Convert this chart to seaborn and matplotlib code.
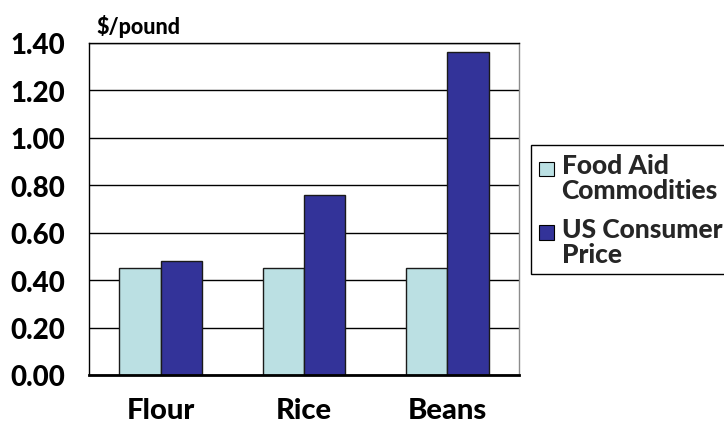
import matplotlib
matplotlib.use("Agg")
import matplotlib.pyplot as plt
import seaborn as sns
import pandas as pd
from matplotlib.patches import Rectangle, Patch
from matplotlib.legend_handler import HandlerPatch

# Price per pound of three staple commodities
categories = ["Flour", "Rice", "Beans"]
food_aid = [0.45, 0.45, 0.45]
consumer_price = [0.48, 0.76, 1.36]
series_names = ["Food Aid\nCommodities", "US Consumer\nPrice"]
series_colors = ["#BBE0E3", "#333399"]
y_ticks = [0.0, 0.2, 0.4, 0.6, 0.8, 1.0, 1.2, 1.4]
y_tick_labels = ["0.00", "0.20", "0.40", "0.60", "0.80", "1.00", "1.20", "1.40"]
y_unit = "$/pound"

df = pd.DataFrame({
    "category": categories * 2,
    "series": [series_names[0]] * len(categories) + [series_names[1]] * len(categories),
    "price": food_aid + consumer_price,
})

sns.set_theme(style="white")
plt.rcParams["font.family"] = ["Lato", "DejaVu Sans"]
plt.rcParams["font.weight"] = "black"

W, H = 724, 427
fig = plt.figure(figsize=(W / 100, H / 100), dpi=100)
ax = fig.add_axes([89 / W, 1 - 376 / H, 430 / W, 332 / H])

sns.barplot(data=df, x="category", y="price", hue="series", order=categories,
            hue_order=series_names, palette=series_colors, width=0.577,
            edgecolor="#1a1a1a", linewidth=1.0, saturation=1, legend=False, ax=ax)

ax.set_xlim(-0.5, len(categories) - 0.5)
ax.set_ylim(0, 1.4)
ax.set_xlabel("")
ax.set_ylabel("")

# horizontal gridlines behind the bars
ax.set_axisbelow(True)
ax.yaxis.grid(True, color="black", linewidth=1.0)
ax.xaxis.grid(False)

ax.set_yticks(y_ticks)
ax.set_yticklabels(y_tick_labels, fontweight="black")
ax.tick_params(axis="y", which="major", direction="out", length=8, width=1,
               color="black", pad=9, labelsize=20, labelcolor="black")

# category labels centred, tick marks on category boundaries
ax.set_xticks(range(len(categories)))
ax.set_xticklabels(categories, fontweight="black")
ax.set_xticks([i - 0.5 for i in range(len(categories) + 1)], minor=True)
ax.tick_params(axis="x", which="major", length=0, pad=16, labelsize=21, labelcolor="black")
ax.tick_params(axis="x", which="minor", direction="out", length=8, width=1.5, color="black")

for side in ["left", "top"]:
    ax.spines[side].set_color("black")
    ax.spines[side].set_linewidth(1.0)
ax.spines["bottom"].set_color("black")
ax.spines["bottom"].set_linewidth(2.0)
ax.spines["right"].set_color("#8c8c8c")
ax.spines["right"].set_linewidth(1.0)

ax.text(96 / W, 1 - 34 / H, y_unit, transform=fig.transFigure, fontsize=15.5,
        fontweight="black", color="black", ha="left", va="baseline")


class TopSquare(HandlerPatch):
    """Square swatch pinned to the first line of a two-line label."""

    def create_artists(self, legend, orig_handle, xdescent, ydescent, width,
                       height, fontsize, trans):
        s = 0.54 * fontsize
        y = height - ydescent - s - 0.1 * fontsize
        r = Rectangle((-xdescent, y), s, s, facecolor=orig_handle.get_facecolor(),
                      edgecolor="black", linewidth=0.8, transform=trans)
        return [r]


handles = [Patch(facecolor=c, edgecolor="black") for c in series_colors]
leg = fig.legend(handles, series_names, loc="upper left",
                 bbox_to_anchor=(531 / W, 1 - 146 / H), bbox_transform=fig.transFigure,
                 borderaxespad=0, fontsize=19, frameon=True, fancybox=False,
                 edgecolor="black", framealpha=1, handlelength=0.54,
                 handleheight=2.0, handletextpad=0.3, borderpad=0.32,
                 labelspacing=0.55,
                 handler_map={Patch: TopSquare()})
leg.get_frame().set_linewidth(1.0)
for t in leg.get_texts():
    t.set_fontweight("black")
    t.set_linespacing(1.05)

fig.savefig("out.png", dpi=100)
